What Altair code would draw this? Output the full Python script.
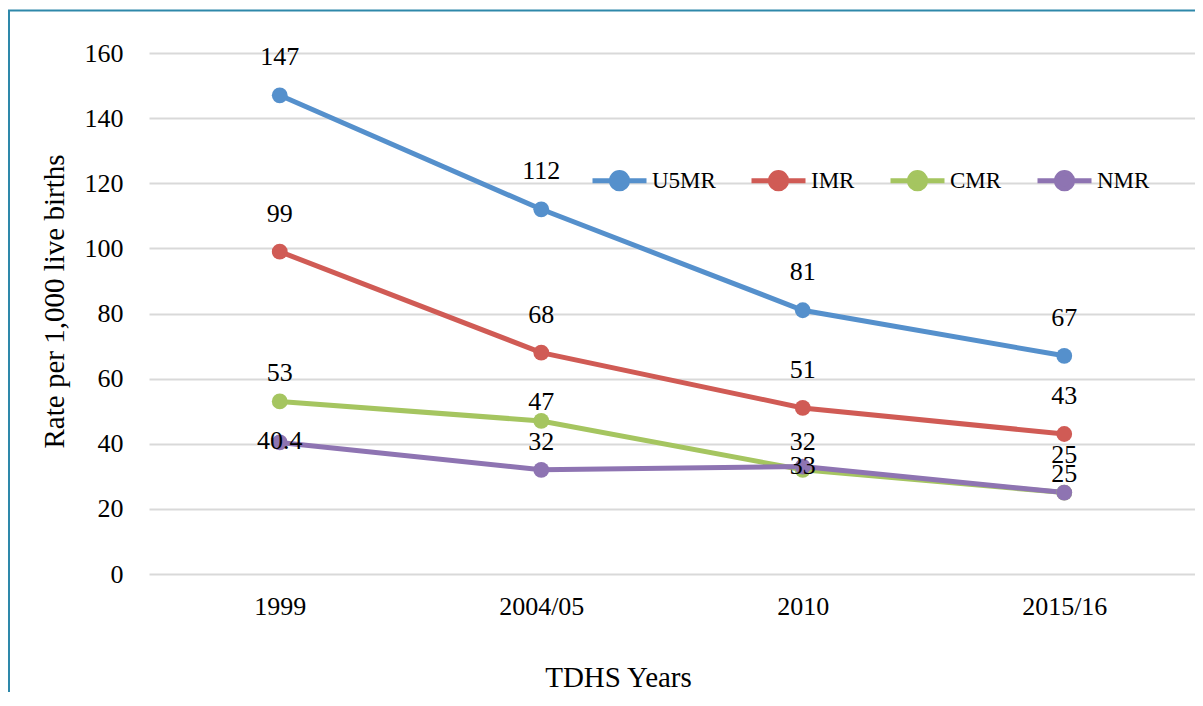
import altair as alt
import pandas as pd

years = ["1999", "2004/05", "2010", "2015/16"]
series_names = ["U5MR", "IMR", "CMR", "NMR"]
u5mr = [147, 112, 81, 67]
imr = [99, 68, 51, 43]
cmr = [53, 47, 32, 25]
nmr = [40.4, 32, 33, 25]

colors = ["#5590cc", "#d05b55", "#a5c560", "#8e74b2"]

# label placement class per point (style only): 0 = high, 1 = mid, 2 = low, 3 = on point
label_pos = {
    "U5MR": [0, 0, 0, 0],
    "IMR": [0, 0, 0, 0],
    "CMR": [1, 2, 1, 0],
    "NMR": [3, 1, 3, 2],
}
label_shift = [-38, -28, -19, -1]

values = {"U5MR": u5mr, "IMR": imr, "CMR": cmr, "NMR": nmr}
rows = []
for s in series_names:
    for i, y in enumerate(years):
        rows.append({"year": y, "series": s, "rate": values[s][i], "pos": label_pos[s][i]})
df = pd.DataFrame(rows)

FONT = "Liberation Serif"
W, H = 1046, 521

x_enc = alt.X("year:O", sort=years, scale=alt.Scale(type="point", padding=0.5),
              axis=alt.Axis(title="TDHS Years", labelAngle=0, domain=False, ticks=False,
                            labelPadding=19, labelFont=FONT, labelFontSize=26, labelColor="#000",
                            titleFont=FONT, titleFontSize=29, titleFontWeight="normal", titleColor="#000",
                            titleBaseline="alphabetic", titleX=469, titleY=112, titleAlign="center"))
y_enc = alt.Y("rate:Q", scale=alt.Scale(domain=[0, 160], nice=False),
              axis=alt.Axis(title="Rate  per 1,000 live births", values=list(range(0, 161, 20)),
                            grid=True, gridColor="#d9d9d9", gridWidth=2, domain=False, ticks=False,
                            labelPadding=26, labelFont=FONT, labelFontSize=26, labelColor="#000",
                            titleFont=FONT, titleFontSize=29, titleFontWeight="normal", titleColor="#000",
                            titleBaseline="alphabetic", titleX=-86, titleY=248, titleAngle=270,
                            titleAlign="center"))

sym = "M-1,0H1M-0.3,0A0.3,0.3,0,1,1,0.3,0A0.3,0.3,0,1,1,-0.3,0Z"
color_enc = alt.Color("series:N", sort=series_names,
                      scale=alt.Scale(domain=series_names, range=colors),
                      legend=alt.Legend(title=None, orient="none", legendX=441, legendY=98,
                                        direction="horizontal", symbolType=sym, symbolSize=2916,
                                        symbolStrokeWidth=5, labelFont=FONT, labelFontSize=23,
                                        labelColor="#000", labelOffset=3, columnPadding=25,
                                        padding=0))

base = alt.Chart(df)
lines = base.mark_line(strokeWidth=5).encode(x=x_enc, y=y_enc, color=color_enc,
                                             order=alt.Order("year:O"))
points = base.mark_point(filled=True, size=250, opacity=1).encode(x=x_enc, y=y_enc, color=color_enc)

label_layers = []
for k, shift in enumerate(label_shift):
    label_layers.append(
        base.transform_filter(alt.datum.pos == k)
        .mark_text(font=FONT, fontSize=26, color="#000", baseline="middle", dy=shift)
        .encode(x=x_enc, y=y_enc, text=alt.Text("rate:Q"))
    )

one = alt.Data(values=[{}])
border_left = alt.Chart(one).mark_rule(color="#2e88aa", strokeWidth=2).encode(
    x=alt.value(-140), y=alt.value(-43), y2=alt.value(700))
border_top = alt.Chart(one).mark_rule(color="#2e88aa", strokeWidth=2).encode(
    x=alt.value(-141), x2=alt.value(1100), y=alt.value(-42.5))

chart = alt.layer(border_left, border_top, lines, points, *label_layers).properties(
    width=W, height=H, autosize=alt.AutoSizeParams(type="none"),
    padding={"left": 141, "top": 45, "right": 0, "bottom": 118},
    background="white",
).configure_view(stroke=None)

chart.save("out.html", embed_options={"renderer": "svg", "actions": False})
